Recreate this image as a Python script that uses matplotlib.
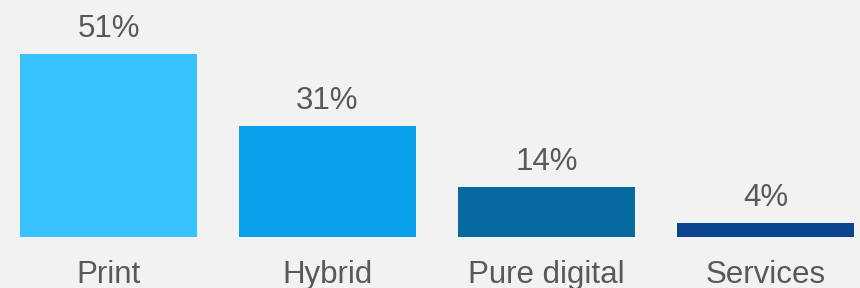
import matplotlib.pyplot as plt
from matplotlib.transforms import blended_transform_factory

categories = ["Print", "Hybrid", "Pure digital", "Services"]
shares = [51, 31, 14, 4]
colors = ["#38c3ff", "#0aa0ea", "#066aa0", "#0b4592"]

plt.rcParams['font.family'] = ['Liberation Sans', 'DejaVu Sans']

fig = plt.figure(figsize=(8.6, 2.88), dpi=100, facecolor="#f2f2f2")
ax = fig.add_axes([0, 0, 1, 1])
ax.set_facecolor("#f2f2f2")

x = range(len(categories))
ax.bar(x, shares, width=0.808, color=colors)

# value labels above bars
for i, v in enumerate(shares):
    ax.annotate(f"{v}%", (i, v), xytext=(0, 12.2), textcoords="offset points",
                ha="center", va="baseline", fontsize=22.5, color="#595959")

# category labels under bars
trans = blended_transform_factory(ax.transData, ax.transAxes)
for i, c in enumerate(categories):
    ax.text(i, 5 / 288, c, transform=trans, ha="center", va="baseline",
            fontsize=22.5, color="#595959")

ax.set_xlim(-108.5 / 219, (860 - 108.5) / 219)
ax.set_ylim(-51 / 3.59, (288 - 51) / 3.59)
ax.axis("off")

fig.savefig("out.png", dpi=100, facecolor=fig.get_facecolor())
